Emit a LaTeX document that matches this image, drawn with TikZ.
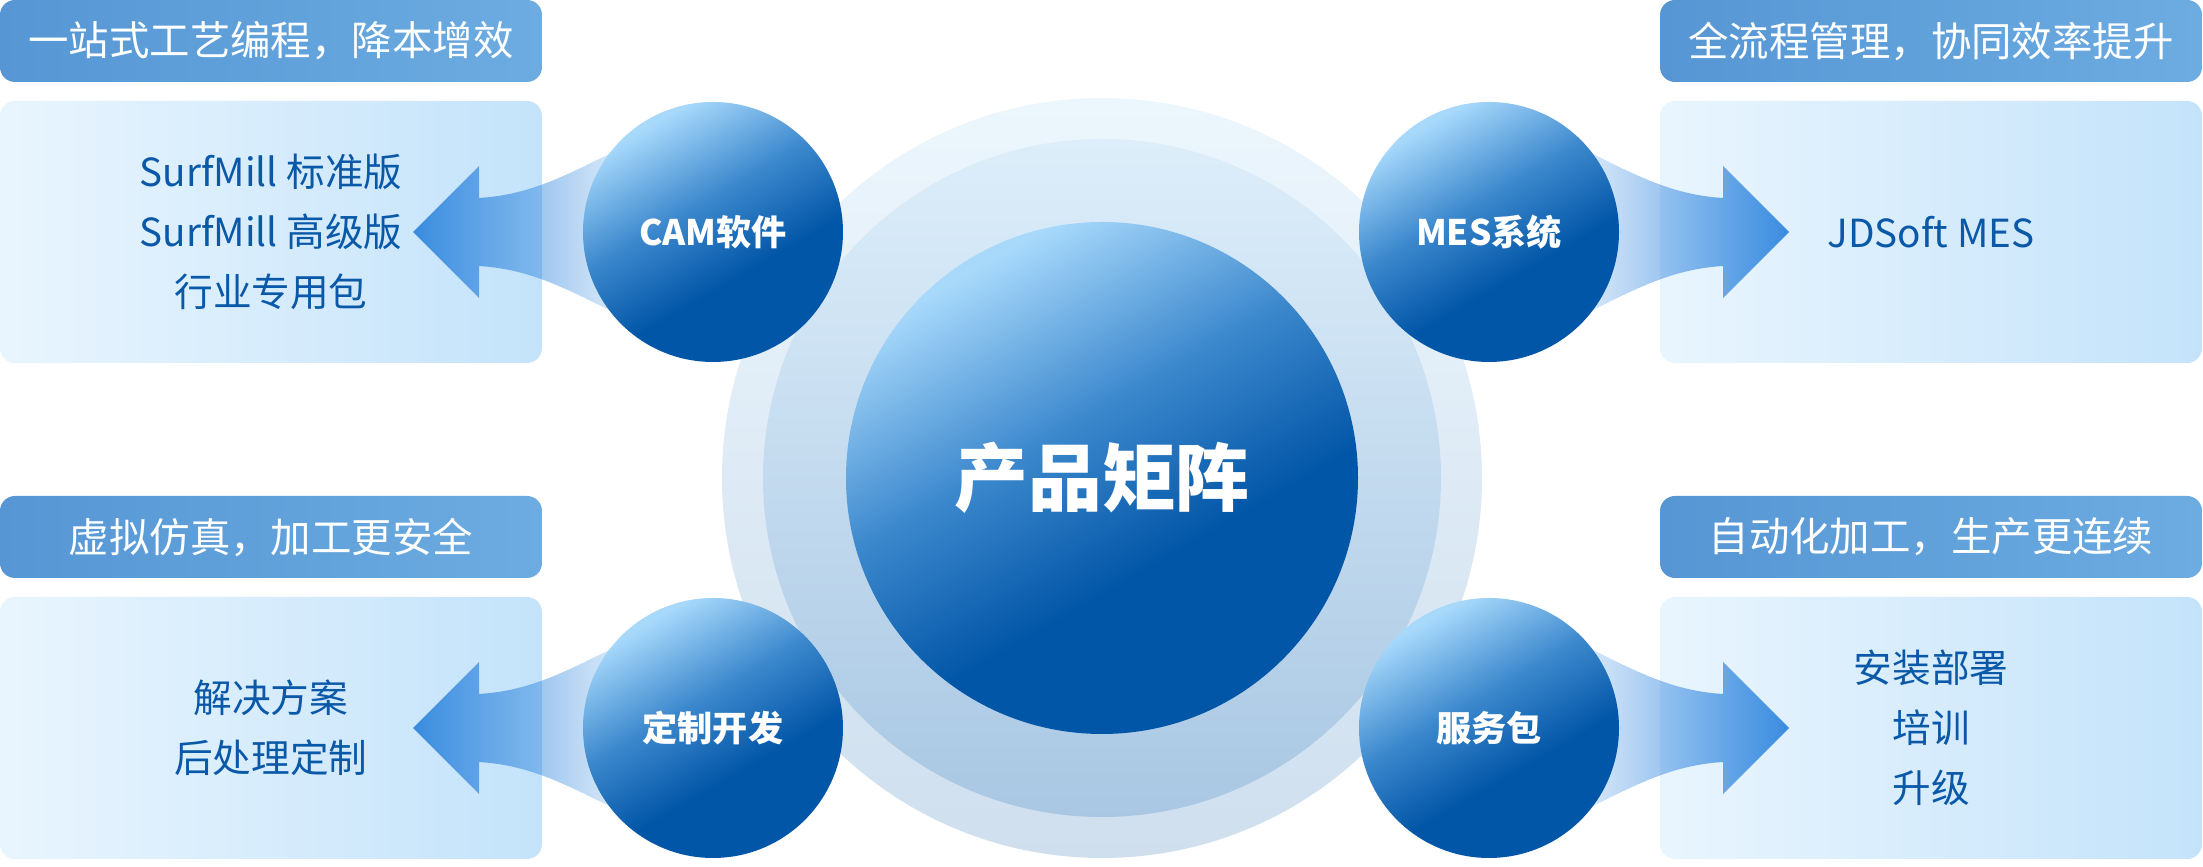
\documentclass[tikz,border=0pt]{standalone}
\usepackage{fontspec}
\setmainfont{Noto Sans CJK SC}
\usetikzlibrary{positioning,fadings,backgrounds}

\definecolor{orbdark}{HTML}{0256A7}
\definecolor{orbmid}{HTML}{3C88CD}
\definecolor{orblight}{HTML}{A8D9FB}
\definecolor{halotop}{HTML}{ECF6FD}
\definecolor{halobot}{HTML}{CFDFEE}
\definecolor{ringtop}{HTML}{DDEEFA}
\definecolor{ringbot}{HTML}{A9C7E3}
\definecolor{headleft}{HTML}{5696D4}
\definecolor{headright}{HTML}{6CACE1}
\definecolor{listleft}{HTML}{E9F5FE}
\definecolor{listright}{HTML}{C4E3FA}
\definecolor{listtext}{HTML}{0A58A8}
\definecolor{arrowblue}{HTML}{3A8CE0}

\pgfdeclareverticalshading{orbshade}{100bp}{color(0bp)=(orbdark); color(40bp)=(orbdark);
  color(56bp)=(orbmid); color(74bp)=(orblight); color(100bp)=(orblight)}

\tikzfading[name=fadetoright, left color=transparent!0, right color=transparent!80]
\tikzfading[name=fadetoleft, left color=transparent!80, right color=transparent!0]

\tikzset{
  orb/.style={circle, minimum size=2.6cm, inner sep=0pt, shade, shading=orbshade,
    shading angle=30, text=white, font=\fontsize{10}{12}\selectfont\bfseries},
  hubcircle/.style={orb, minimum size=5.12cm, font=\fontsize{21}{24}\selectfont\bfseries},
  halo/.style={circle, minimum size=7.6cm, inner sep=0pt, top color=halotop, bottom color=halobot},
  ring/.style={circle, minimum size=6.78cm, inner sep=0pt, top color=ringtop, bottom color=ringbot},
  headbox/.style={rectangle, rounded corners=0.15cm, minimum width=5.42cm, minimum height=0.82cm,
    inner sep=0pt, left color=headleft, right color=headright, text=white,
    font=\fontsize{11.5}{14}\selectfont},
  listbox/.style={rectangle, rounded corners=0.15cm, minimum width=5.42cm, minimum height=2.62cm,
    inner sep=0pt, left color=listleft, right color=listright, text=listtext, align=center,
    font=\fontsize{11}{17}\selectfont}
}

% #1 circle, #2 side (-1 left, 1 right), #3 fading
\newcommand\flowarrow[3]{%
  \fill[arrowblue, path fading=#3, shift={(#1.center)}]
    ({#2*1.0},0.80) .. controls ({#2*1.5},0.55) and ({#2*1.85},0.37) .. ({#2*2.34},0.34)
    -- ({#2*2.34},0.66) -- ({#2*3.0},0) -- ({#2*2.34},-0.66) -- ({#2*2.34},-0.34)
    .. controls ({#2*1.85},-0.37) and ({#2*1.5},-0.55) .. ({#2*1.0},-0.80) -- cycle;}

\begin{document}
\begin{tikzpicture}[node distance=4.42cm, on grid]
    \useasboundingbox (-11.02,-3.89) rectangle (11.01,4.78);

    \node[halo] (halo) at (0,0) {};
    \node[ring] (ring) at (0,0) {};
    \node[hubcircle] (hub) at (0,0) {产品矩阵};

    \node[orb] (cam) [above left=2.46cm and 3.89cm of hub] {CAM软件};
    \node[orb] (mes) [above right=2.46cm and 3.87cm of hub] {MES系统};
    \node[orb] (dev) [below left=2.50cm and 3.89cm of hub] {定制开发};
    \node[orb] (svc) [below right=2.50cm and 3.87cm of hub] {服务包};

    \begin{pgfonlayer}{background}
    \node[listbox] (camlist) [left=of cam] {SurfMill 标准版\\SurfMill 高级版\\行业专用包};
    \node[listbox] (meslist) [right=of mes] {JDSoft MES};
    \node[listbox] (devlist) [left=of dev] {解决方案\\后处理定制};
    \node[listbox] (svclist) [right=of svc] {安装部署\\培训\\升级};

    \node[headbox] (camhead) [above=1.91cm of camlist] {一站式工艺编程，降本增效};
    \node[headbox] (meshead) [above=1.91cm of meslist] {全流程管理，协同效率提升};
    \node[headbox] (devhead) [above=1.91cm of devlist] {虚拟仿真，加工更安全};
    \node[headbox] (svchead) [above=1.91cm of svclist] {自动化加工，生产更连续};

    \flowarrow{cam}{-1}{fadetoright}
    \flowarrow{dev}{-1}{fadetoright}
    \flowarrow{mes}{1}{fadetoleft}
    \flowarrow{svc}{1}{fadetoleft}
    \end{pgfonlayer}
\end{tikzpicture}
\end{document}
